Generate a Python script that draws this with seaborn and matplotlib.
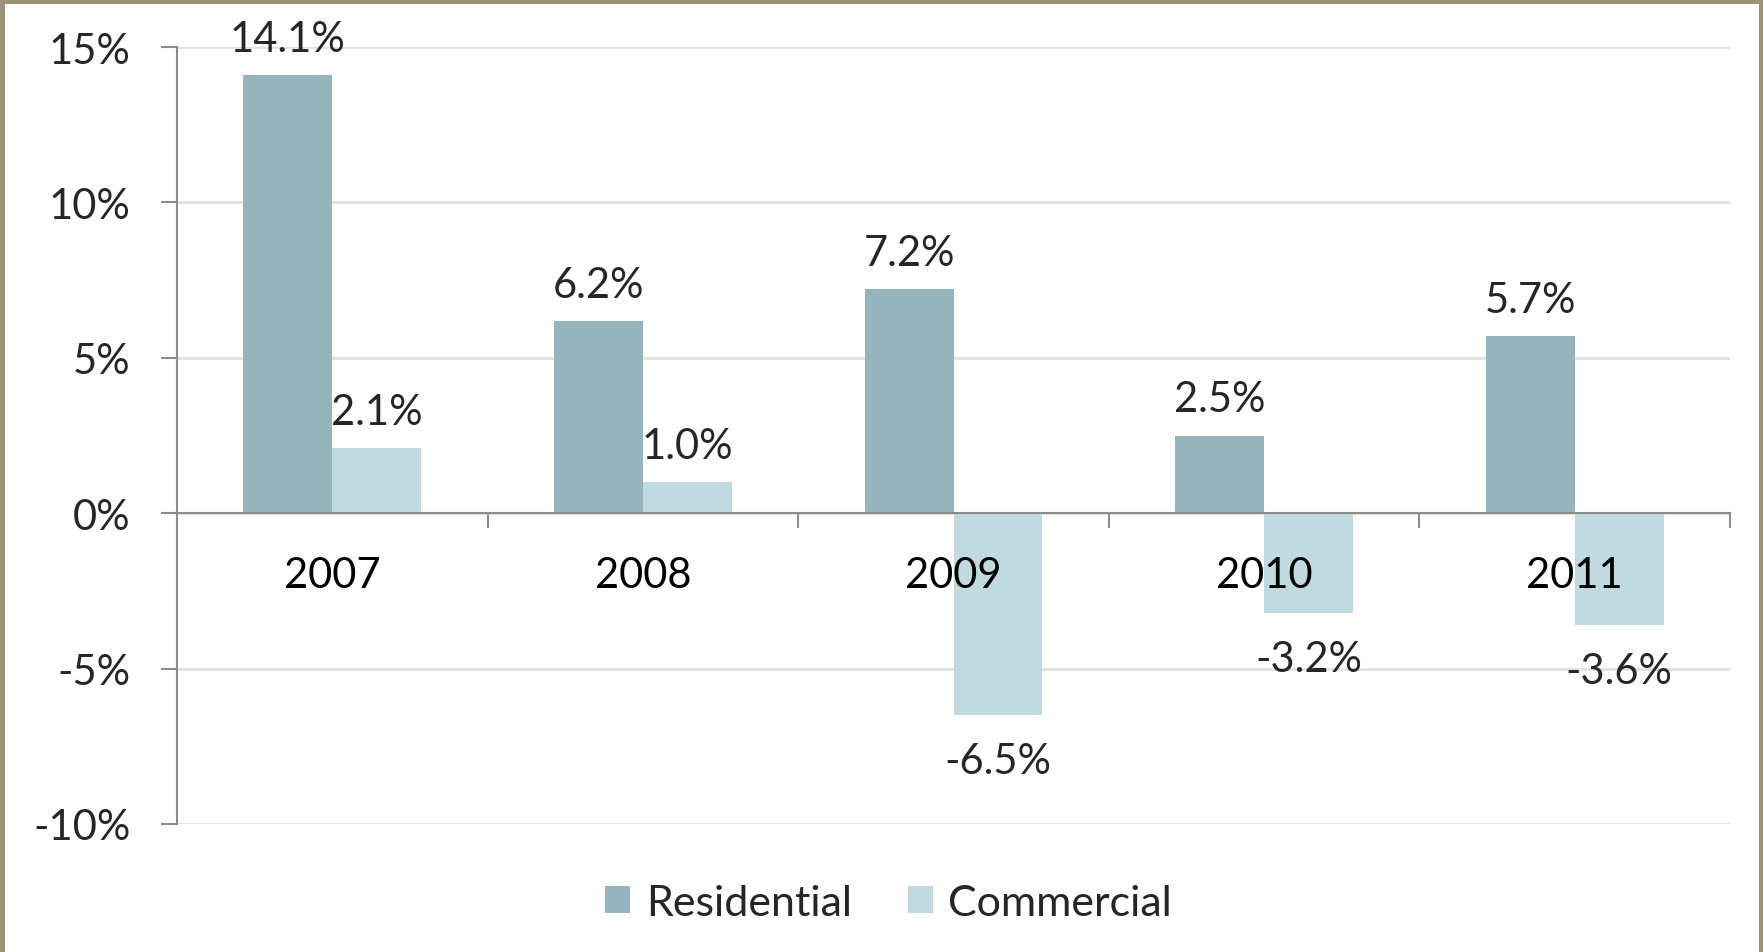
import pandas as pd
import matplotlib.pyplot as plt
import seaborn as sns
from matplotlib.ticker import FixedLocator, FuncFormatter
from matplotlib.patches import Rectangle

# Data
years = ["2007", "2008", "2009", "2010", "2011"]
residential = [14.1, 6.2, 7.2, 2.5, 5.7]
commercial = [2.1, 1.0, -6.5, -3.2, -3.6]
series_names = ["Residential", "Commercial"]
y_ticks = [-10, -5, 0, 5, 10, 15]

df = pd.DataFrame({
    "Year": years * 2,
    "Growth": residential + commercial,
    "Sector": [series_names[0]] * len(years) + [series_names[1]] * len(years),
})

sns.set_theme(style="white")
plt.rcParams["font.family"] = ["Lato", "DejaVu Sans"]
plt.rcParams["axes.unicode_minus"] = False

W, H = 1763, 953
fig = plt.figure(figsize=(W / 100, H / 100), dpi=100)
ax = fig.add_axes([177 / W, 1 - 825 / H, (1730 - 177) / W, (825 - 48) / H])

sns.barplot(data=df, x="Year", y="Growth", hue="Sector",
            palette=["#95b4bc", "#c1dae0"], width=0.573, saturation=1,
            linewidth=0, ax=ax)

ax.set_ylim(-10, 15)
ax.yaxis.set_major_locator(FixedLocator(y_ticks))
ax.yaxis.set_major_formatter(FuncFormatter(lambda v, p: f"{v:.0f}%"))
ax.set_xlabel("")
ax.set_ylabel("")

gray = "#8c8c8c"
for s in ["top", "right"]:
    ax.spines[s].set_visible(False)
ax.spines["bottom"].set_position(("data", 0))
ax.spines["bottom"].set_color(gray)
ax.spines["bottom"].set_linewidth(1.5)
ax.spines["left"].set_color(gray)
ax.spines["left"].set_linewidth(1.5)

# grid behind the bars, year labels in front of them
ax.yaxis.grid(True, color="#e2e2da", linewidth=2)
ax.set_axisbelow(True)
ax.xaxis.set_zorder(5)

# x: labels at category centres, tick marks between categories
ax.xaxis.set_minor_locator(FixedLocator([0.5, 1.5, 2.5, 3.5, 4.5]))
ax.tick_params(axis="x", which="major", length=0, pad=31, labelsize=30, colors="black")
ax.tick_params(axis="x", which="minor", direction="out", length=11, width=1.5,
               color=gray, bottom=True)
ax.tick_params(axis="y", which="major", direction="out", length=11.5, width=1.5,
               color=gray, pad=22, labelsize=30, left=True)

# value labels
values = [residential, commercial]
for container, vals in zip(ax.containers, values):
    for bar, v in zip(container, vals):
        x = bar.get_x() + bar.get_width() / 2
        y = bar.get_y() + bar.get_height()
        if v >= 0:
            ax.annotate(f"{v:.1f}%", xy=(x, y), xytext=(0, 17),
                        textcoords="offset pixels", ha="center", va="bottom",
                        fontsize=30, zorder=6)
        else:
            ax.annotate(f"{v:.1f}%", xy=(x, y), xytext=(0, -27),
                        textcoords="offset pixels", ha="center", va="top",
                        fontsize=30, zorder=6)

# legend at the bottom
handles, labels = ax.get_legend_handles_labels()
ax.legend_.remove()
fig.legend(handles, labels, loc="center", bbox_to_anchor=(0.504, 1 - 904 / H),
           ncol=2, frameon=False, fontsize=31, handlelength=0.58,
           handleheight=0.58, handletextpad=0.36, columnspacing=1.3)

# frame around the picture (top, left, right)
border = "#9a9378"
fig.add_artist(Rectangle((0, 1 - 5 / H), 1, 5 / H, transform=fig.transFigure,
                         color=border, lw=0))
fig.add_artist(Rectangle((0, 0), 5 / W, 1, transform=fig.transFigure,
                         color=border, lw=0))
fig.add_artist(Rectangle((1 - 4 / W, 0), 4 / W, 1, transform=fig.transFigure,
                         color=border, lw=0))

fig.savefig("out.png", dpi=100)
